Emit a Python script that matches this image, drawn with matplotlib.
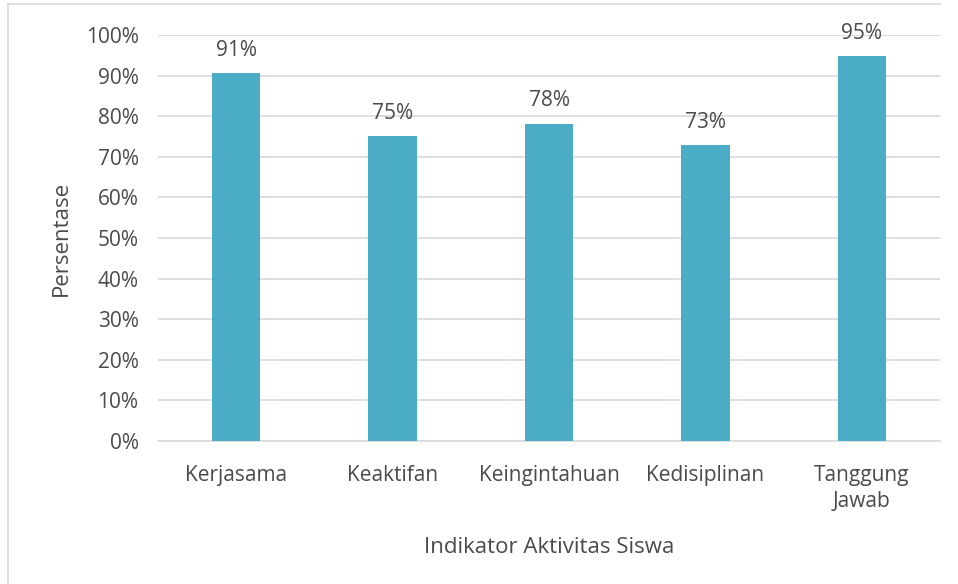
import matplotlib.pyplot as plt
from matplotlib.lines import Line2D
import numpy as np

categories = ["Kerjasama", "Keaktifan", "Keingintahuan", "Kedisiplinan", "Tanggung\nJawab"]
values = [0.906, 0.751, 0.781, 0.729, 0.948]
labels = ["91%", "75%", "78%", "73%", "95%"]
yticks = np.arange(0, 1.01, 0.1)
ytick_labels = [f"{int(round(t * 100))}%" for t in yticks]

plt.rcParams['font.family'] = ['Open Sans', 'DejaVu Sans']
txt = "#4a4a4a"

fig = plt.figure(figsize=(9.58, 5.84), dpi=100)
ax = fig.add_axes([158 / 958, 1 - 441 / 584, (940 - 158) / 958, (441 - 35) / 584])

x = np.arange(len(categories))
ax.bar(x, values, width=0.31, color="#4BACC6", zorder=3)
for xi, v, lab in zip(x, values, labels):
    ax.annotate(lab, (xi, v), xytext=(0, 9), textcoords="offset points",
                ha="center", va="bottom", fontsize=15, color=txt)

ax.set_xlim(-0.5, len(categories) - 0.5)
ax.set_ylim(0, 1.0)
ax.set_yticks(yticks)
ax.set_yticklabels(ytick_labels, fontsize=15, color=txt)
ax.set_xticks(x)
ax.set_xticklabels(categories, fontsize=15, color=txt, linespacing=1.35)
ax.tick_params(axis="x", length=0, pad=17)
ax.tick_params(axis="y", length=0, pad=14)
ax.yaxis.grid(True, color="#D9D9D9", linewidth=1.2, zorder=0)
for s in ["top", "right", "left"]:
    ax.spines[s].set_visible(False)
ax.spines["bottom"].set_color("#D9D9D9")
ax.spines["bottom"].set_linewidth(1.2)

ax.set_xlabel("Indikator Aktivitas Siswa", fontsize=16, color=txt, labelpad=18)
ax.set_ylabel("Persentase", fontsize=16, color=txt, labelpad=10)

# chart area border (partly visible in the crop)
fig.add_artist(Line2D([8 / 958, 940 / 958], [1 - 4 / 584, 1 - 4 / 584],
                      transform=fig.transFigure, color="#D9D9D9", linewidth=1.2))
fig.add_artist(Line2D([8 / 958, 8 / 958], [0, 1 - 4 / 584],
                      transform=fig.transFigure, color="#D9D9D9", linewidth=1.2))

fig.savefig("out.png", dpi=100)
